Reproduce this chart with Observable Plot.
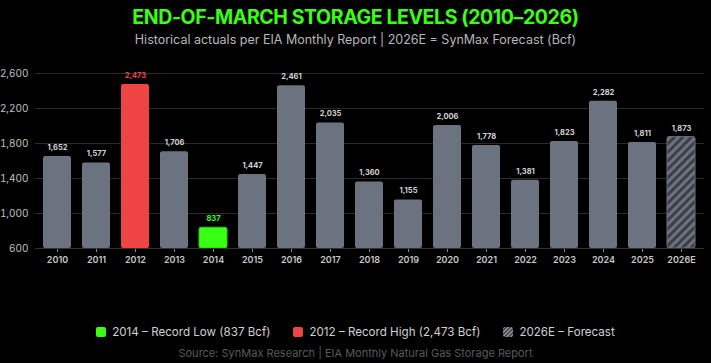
<!DOCTYPE html>
<html>
<head>
<meta charset="utf-8">
<script src="https://cdn.jsdelivr.net/npm/d3@7"></script>
<script src="https://cdn.jsdelivr.net/npm/@observablehq/plot@0.6"></script>
<style>
  html, body { margin: 0; padding: 0; background: #000; }
  body { width: 711px; height: 363px; position: relative; overflow: hidden; font-family: Inter, Roboto, sans-serif; }
  .title { position: absolute; top: 5px; left: 0; width: 711px; text-align: center; color: #39ff14; font-weight: 700; font-size: 19.5px; line-height: 24px; letter-spacing: -0.4px; }
  .subtitle { position: absolute; top: 31px; left: 0; width: 711px; text-align: center; color: #b8b8b8; font-size: 12.5px; line-height: 18px; }
  #chart { position: absolute; top: 50px; left: 0; }
  .legend { position: absolute; top: 324px; left: 0; width: 711px; display: flex; justify-content: center; gap: 23px; color: #d0d0d0; font-size: 11.6px; line-height: 16px; }
  .legend span.item { display: inline-flex; align-items: center; gap: 6px; }
  .sw { display: inline-block; width: 10px; height: 10px; border-radius: 2px; }
  .source { position: absolute; top: 346px; left: 0; width: 711px; text-align: center; color: #5a5a5a; font-size: 11px; line-height: 14px; }
</style>
</head>
<body>
<div class="title">END-OF-MARCH STORAGE LEVELS (2010–2026)</div>
<div class="subtitle">Historical actuals per EIA Monthly Report | 2026E = SynMax Forecast (Bcf)</div>
<div id="chart"></div>
<div class="legend">
  <span class="item"><span class="sw" style="background:#39ff14"></span>2014 – Record Low (837 Bcf)</span>
  <span class="item"><span class="sw" style="background:#ef4444"></span>2012 – Record High (2,473 Bcf)</span>
  <span class="item"><span class="sw" style="background:repeating-linear-gradient(135deg,#8a8f99 0 1.5px,#44474e 1.5px 3px)"></span>2026E – Forecast</span>
</div>
<div class="source">Source: SynMax Research | EIA Monthly Natural Gas Storage Report</div>
<script>
const years = ["2010","2011","2012","2013","2014","2015","2016","2017","2018","2019","2020","2021","2022","2023","2024","2025","2026E"];
const storage = [1652,1577,2473,1706,837,1447,2461,2035,1360,1155,2006,1778,1381,1823,2282,1811,1873];
const kinds = ["actual","actual","high","actual","low","actual","actual","actual","actual","actual","actual","actual","actual","actual","actual","actual","forecast"];
const yTicks = [600,1000,1400,1800,2200,2600];

const data = years.map((y, i) => ({year: y, value: storage[i], kind: kinds[i]}));
const fillFor = {actual: "#6b7280", high: "#ef4444", low: "#39ff14", forecast: "url(#hatch)"};
const labelFor = {actual: "#d4d4d4", high: "#ef4444", low: "#39ff14", forecast: "#d4d4d4"};

const chart = Plot.plot({
  width: 711,
  height: 225,
  marginTop: 23,
  marginBottom: 27,
  marginLeft: 35,
  marginRight: 7,
  style: {background: "#000", color: "#c8c8c8", fontFamily: "Inter, Roboto, sans-serif"},
  x: {domain: years, paddingInner: 0.28, paddingOuter: 0.14, label: null, tickSize: 4, tickPadding: 4},
  y: {domain: [600, 2600], ticks: yTicks, tickFormat: d3.format(","), label: null, tickSize: 0, tickPadding: 7},
  marks: [
    Plot.gridY(yTicks, {stroke: "#2a2a2a", strokeOpacity: 1, strokeWidth: 1}),
    Plot.barY(data, {x: "year", y1: 600, y2: "value", fill: d => fillFor[d.kind], stroke: d => d.kind === "forecast" ? "#6b7280" : d.kind === "low" ? "#2ecc10" : "none", strokeWidth: 1, rx: 2}),
    Plot.text(data, {x: "year", y: "value", text: d => d3.format(",")(d.value), dy: -9, fill: d => labelFor[d.kind], fontSize: 7.5, fontWeight: 700}),
    Plot.axisX({tickSize: 4, stroke: "#888", fill: "#c8c8c8", fontSize: 9, fontWeight: 600, tickPadding: 4}),
    Plot.axisY(yTicks, {tickSize: 0, tickFormat: d3.format(","), fill: "#c0c0c0", fontSize: 10, tickPadding: 7}),
    Plot.ruleY([600], {stroke: "#333"})
  ]
});

const svg = d3.select(chart);
const defs = svg.insert("defs", ":first-child");
const pat = defs.append("pattern").attr("id", "hatch").attr("patternUnits", "userSpaceOnUse")
  .attr("width", 6).attr("height", 6).attr("patternTransform", "rotate(45)");
pat.append("rect").attr("width", 6).attr("height", 6).attr("fill", "#3c3f46");
pat.append("rect").attr("width", 3).attr("height", 6).attr("fill", "#6b7280");

document.getElementById("chart").appendChild(chart);
</script>
</body>
</html>
